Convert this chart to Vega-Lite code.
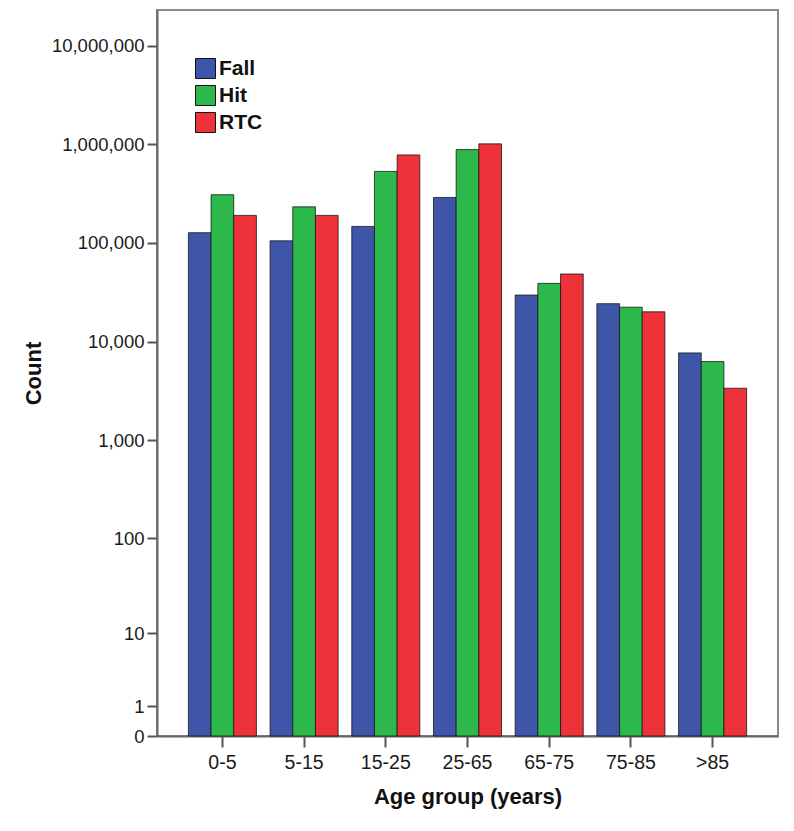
{
  "$schema": "https://vega.github.io/schema/vega-lite/v6.json",
  "autosize": {"type": "none"},
  "padding": {"left": 157, "top": 10, "right": 16, "bottom": 95},
  "width": 621,
  "height": 726,
  "background": "white",
  "config": {
    "font": "Liberation Sans",
    "view": {"stroke": "#8a8a8a", "strokeWidth": 2}
  },
  "data": {
    "values": [
      {"age": "0-5", "cause": "Fall", "count": 127000},
      {"age": "0-5", "cause": "Hit", "count": 308000},
      {"age": "0-5", "cause": "RTC", "count": 190000},
      {"age": "5-15", "cause": "Fall", "count": 105000},
      {"age": "5-15", "cause": "Hit", "count": 232000},
      {"age": "5-15", "cause": "RTC", "count": 190000},
      {"age": "15-25", "cause": "Fall", "count": 147000},
      {"age": "15-25", "cause": "Hit", "count": 531000},
      {"age": "15-25", "cause": "RTC", "count": 780000},
      {"age": "25-65", "cause": "Fall", "count": 289000},
      {"age": "25-65", "cause": "Hit", "count": 883000},
      {"age": "25-65", "cause": "RTC", "count": 1010000},
      {"age": "65-75", "cause": "Fall", "count": 29600},
      {"age": "65-75", "cause": "Hit", "count": 38900},
      {"age": "65-75", "cause": "RTC", "count": 48400},
      {"age": "75-85", "cause": "Fall", "count": 24200},
      {"age": "75-85", "cause": "Hit", "count": 22300},
      {"age": "75-85", "cause": "RTC", "count": 20000},
      {"age": ">85", "cause": "Fall", "count": 7670},
      {"age": ">85", "cause": "Hit", "count": 6260},
      {"age": ">85", "cause": "RTC", "count": 3360}
    ]
  },
  "mark": {"type": "bar", "stroke": "#111111", "strokeWidth": 1, "strokeOpacity": 0.75},
  "encoding": {
    "x": {
      "field": "age",
      "type": "nominal",
      "sort": ["0-5", "5-15", "15-25", "25-65", "65-75", "75-85", ">85"],
      "scale": {"paddingInner": 0.167, "paddingOuter": 0.384},
      "axis": {
        "title": "Age group (years)",
        "titleFontSize": 22,
        "titleFontWeight": "bold",
        "titleColor": "#111111",
        "titlePadding": 15,
        "labelAngle": 0,
        "labelFontSize": 19.5,
        "labelColor": "#1a1a1a",
        "labelPadding": 6,
        "tickSize": 11,
        "tickColor": "#555555",
        "tickWidth": 2,
        "domainColor": "#666666",
        "domainWidth": 2
      }
    },
    "xOffset": {
      "field": "cause",
      "type": "nominal",
      "scale": {"paddingInner": 0, "paddingOuter": 0}
    },
    "y": {
      "field": "count",
      "type": "quantitative",
      "scale": {"type": "symlog", "constant": 1, "domain": [0, 23000000], "nice": false},
      "axis": {
        "title": "Count",
        "titleFontSize": 22,
        "titleFontWeight": "bold",
        "titleColor": "#111111",
        "titlePadding": 6,
        "values": [0, 1, 10, 100, 1000, 10000, 100000, 1000000, 10000000],
        "labelExpr": "format(datum.value, ',')",
        "labelFontSize": 18.5,
        "labelColor": "#1a1a1a",
        "labelPadding": 3,
        "tickSize": 10,
        "tickColor": "#555555",
        "tickWidth": 2,
        "domainColor": "#666666",
        "domainWidth": 2,
        "grid": false
      }
    },
    "color": {
      "field": "cause",
      "type": "nominal",
      "scale": {"domain": ["Fall", "Hit", "RTC"], "range": ["#3F56A8", "#2DB84B", "#EE3239"]},
      "legend": {
        "title": null,
        "orient": "none",
        "legendX": 38,
        "legendY": 48,
        "symbolType": "square",
        "symbolSize": 400,
        "symbolStrokeColor": "#111111",
        "symbolStrokeWidth": 1,
        "symbolOpacity": 1,
        "labelFontSize": 21,
        "labelFontWeight": "bold",
        "labelColor": "#111111",
        "labelOffset": 3,
        "rowPadding": 2
      }
    }
  }
}
